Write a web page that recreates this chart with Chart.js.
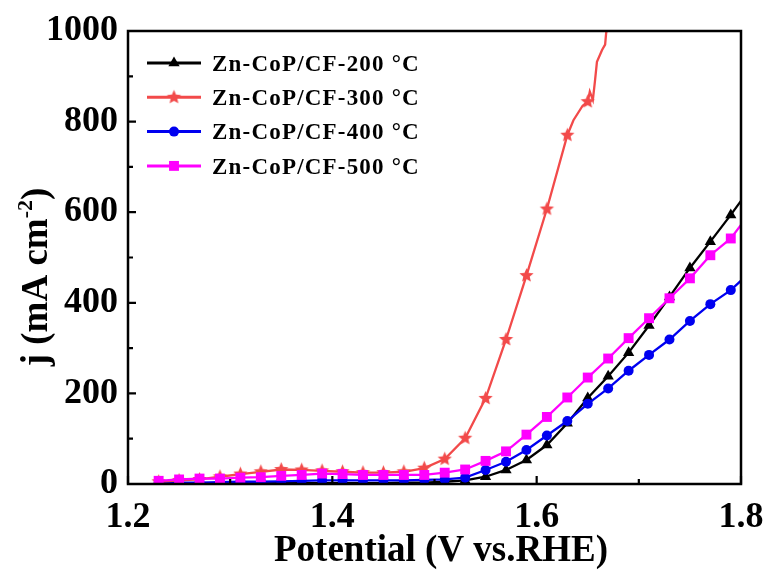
<!DOCTYPE html>
<html><head><meta charset="utf-8">
<script src="https://cdn.jsdelivr.net/npm/chart.js@4.4.1/dist/chart.umd.min.js"></script>
<style>html,body{margin:0;padding:0;background:#fff;}#wrap{width:770px;height:570px;}</style>
</head><body><div id="wrap"><canvas id="c" width="770" height="570"></canvas></div>
<script>
// ---- data ----
const potential = [1.23,1.25,1.27,1.29,1.31,1.33,1.35,1.37,1.39,1.41,1.43,1.45,1.47,1.49,1.51,1.53,1.55,1.57,1.59,1.61,1.63,1.65,1.67,1.69,1.71,1.73,1.75,1.77,1.79,1.80];
const j200 = [2,2,2,2,2,2,2,2,2,2,2,2,3,3,5,8,16,31,53,86,134,190,238,290,350,413,477,535,594,625];
const j400 = [2,3,3,4,5,5,6,7,8,8,8,8,8,9,10,14,31,49,75,107,139,177,211,250,285,319,360,397,428,449];
const j500 = [7,10,12,12,14,15,18,20,23,22,20,20,20,20,25,32,51,72,109,148,191,235,277,322,366,410,454,505,542,572];
const potential300 = [1.23,1.25,1.27,1.29,1.31,1.33,1.35,1.37,1.39,1.41,1.43,1.45,1.47,1.49,1.51,1.53,1.55,1.57,1.59,1.61,1.63,1.636,1.645,1.65,1.652,1.655,1.657,1.659,1.664,1.667,1.668,1.672];
const j300 = [5,8,10,16,22,27,32,31,29,27,25,25,27,35,55,101,189,319,460,607,770,803,835,844,866,848,888,932,958,970,995,1040];
const seriesNames = ['Zn-CoP/CF-200 \u00B0C','Zn-CoP/CF-300 \u00B0C','Zn-CoP/CF-400 \u00B0C','Zn-CoP/CF-500 \u00B0C'];
const xTickValues = [1.2,1.4,1.6,1.8];
const xMinorTickValues = [1.3,1.5,1.7];
const yTickValues = [0,200,400,600,800,1000];
const yMinorTickValues = [100,300,500,700,900];
const xTitle = 'Potential (V vs.RHE)';
const yTitleMain = 'j (mA cm', yTitleSup = '-2', yTitleEnd = ')';

// ---- styles ----
const FONT = 'Liberation Serif';
const colors = ['#000000', '#f24a4a', '#0000f0', '#ff00ff'];
function starCanvas(color, r) {
  const s = Math.ceil(r * 2 + 2);
  const c = document.createElement('canvas'); c.width = s; c.height = s;
  const g = c.getContext('2d');
  g.fillStyle = color; g.beginPath();
  for (let i = 0; i < 10; i++) {
    const rr = i % 2 === 0 ? r : r * 0.45;
    const a = -Math.PI / 2 + i * Math.PI / 5;
    g.lineTo(s / 2 + rr * Math.cos(a), s / 2 + rr * Math.sin(a));
  }
  g.closePath(); g.fill();
  return c;
}
const starImg = starCanvas(colors[1], 7.5);
const pointStyles = ['triangle', starImg, 'circle', 'rect'];
const pointRadii = [6.5, 7, 5, 7];
const onGrid = x => { const k = (x - 1.23) / 0.02; return Math.abs(k - Math.round(k)) < 0.05; };
const toXY = (xs, ys) => xs.map((x, i) => ({ x: x, y: ys[i] }));

const seriesData = [toXY(potential, j200), toXY(potential300, j300), toXY(potential, j400), toXY(potential, j500)];
const drawOrder = [3, 1, 2, 0];
const datasets = seriesData.map((d, i) => ({
  label: seriesNames[i],
  data: d,
  borderColor: colors[i],
  backgroundColor: colors[i],
  borderWidth: 2.3,
  tension: 0,
  pointStyle: pointStyles[i],
  pointRadius: ctx => (ctx.raw && onGrid(ctx.raw.x)) ? pointRadii[i] : 0,
  pointBorderWidth: 0,
  pointBackgroundColor: colors[i],
  order: drawOrder[i]
}));

const decor = {
  id: 'decor',
  afterDatasetsDraw(chart) {
    const { ctx, chartArea: a, scales: { x, y } } = chart;
    ctx.save();
    ctx.strokeStyle = '#000'; ctx.lineWidth = 2.5;
    ctx.beginPath();
    ctx.moveTo(a.left, a.top); ctx.lineTo(a.right, a.top); ctx.lineTo(a.right, a.bottom); ctx.lineTo(a.left, a.bottom); ctx.closePath();
    ctx.stroke();
    ctx.lineWidth = 2.2;
    ctx.beginPath();
    xTickValues.forEach(v => { const p = x.getPixelForValue(v); ctx.moveTo(p, a.bottom); ctx.lineTo(p, a.bottom - 8); });
    xMinorTickValues.forEach(v => { const p = x.getPixelForValue(v); ctx.moveTo(p, a.bottom); ctx.lineTo(p, a.bottom - 5); });
    yTickValues.forEach(v => { const p = y.getPixelForValue(v); ctx.moveTo(a.left, p); ctx.lineTo(a.left + 8, p); });
    yMinorTickValues.forEach(v => { const p = y.getPixelForValue(v); ctx.moveTo(a.left, p); ctx.lineTo(a.left + 5, p); });
    ctx.stroke();

    // axis titles
    ctx.fillStyle = '#000';
    ctx.font = 'bold 37px "' + FONT + '"';
    ctx.textAlign = 'center'; ctx.textBaseline = 'alphabetic';
    ctx.fillText(xTitle, 441, 561);

    ctx.save();
    ctx.translate(47, 277);
    ctx.rotate(-Math.PI / 2);
    const mainFont = 'bold 37px "' + FONT + '"', supFont = 'bold 22px "' + FONT + '"';
    ctx.font = mainFont; const w1 = ctx.measureText(yTitleMain).width; const w3 = ctx.measureText(yTitleEnd).width;
    ctx.font = supFont; const w2 = ctx.measureText(yTitleSup).width;
    let sx = -(w1 + w2 + w3) / 2;
    ctx.textAlign = 'left';
    ctx.font = mainFont; ctx.fillText(yTitleMain, sx, 0); sx += w1;
    ctx.font = supFont; ctx.fillText(yTitleSup, sx, -15); sx += w2;
    ctx.font = mainFont; ctx.fillText(yTitleEnd, sx, 0);
    ctx.restore();

    // legend
    const ly0 = 63, ldy = 34.3;
    seriesNames.forEach((name, i) => {
      const cy = ly0 + i * ldy;
      ctx.strokeStyle = colors[i]; ctx.lineWidth = 3;
      ctx.beginPath(); ctx.moveTo(147, cy); ctx.lineTo(201, cy); ctx.stroke();
      ctx.fillStyle = colors[i];
      Chart.helpers.drawPoint(ctx, { pointStyle: pointStyles[i], radius: pointRadii[i], rotation: 0, borderWidth: 0 }, 174, cy);
      ctx.fillStyle = '#000';
      ctx.font = 'bold 23px "' + FONT + '"';
      ctx.textAlign = 'left'; ctx.textBaseline = 'alphabetic';
      if ('letterSpacing' in ctx) ctx.letterSpacing = '1.2px';
      ctx.fillText(name, 212, cy + 7.8);
      if ('letterSpacing' in ctx) ctx.letterSpacing = '0px';
    });
    ctx.restore();
  }
};

new Chart(document.getElementById('c'), {
  type: 'line',
  data: { datasets: datasets },
  options: {
    responsive: false, animation: false, devicePixelRatio: 1,
    layout: { padding: { left: 0, right: 29, top: 31, bottom: 0 } },
    plugins: { legend: { display: false }, tooltip: { enabled: false } },
    scales: {
      x: {
        type: 'linear', min: 1.2, max: 1.8,
        afterBuildTicks: s => { s.ticks = xTickValues.map(v => ({ value: v })); },
        afterFit: s => { s.height = 86; s.paddingLeft = 0; s.paddingRight = 0; },
        grid: { display: false, drawTicks: false },
        border: { display: false },
        ticks: { color: '#000', font: { family: FONT, size: 36, weight: 'bold' }, padding: 12, maxRotation: 0, autoSkip: false, callback: v => Number(v).toFixed(1) }
      },
      y: {
        type: 'linear', min: 0, max: 1000,
        afterBuildTicks: s => { s.ticks = yTickValues.map(v => ({ value: v })); },
        afterFit: s => { s.width = 128; s.paddingTop = 0; s.paddingBottom = 0; },
        grid: { display: false, drawTicks: false },
        border: { display: false },
        ticks: { color: '#000', font: { family: FONT, size: 36, weight: 'bold' }, padding: 10, autoSkip: false, callback: v => String(v) }
      }
    }
  },
  plugins: [decor]
});
</script></body></html>
